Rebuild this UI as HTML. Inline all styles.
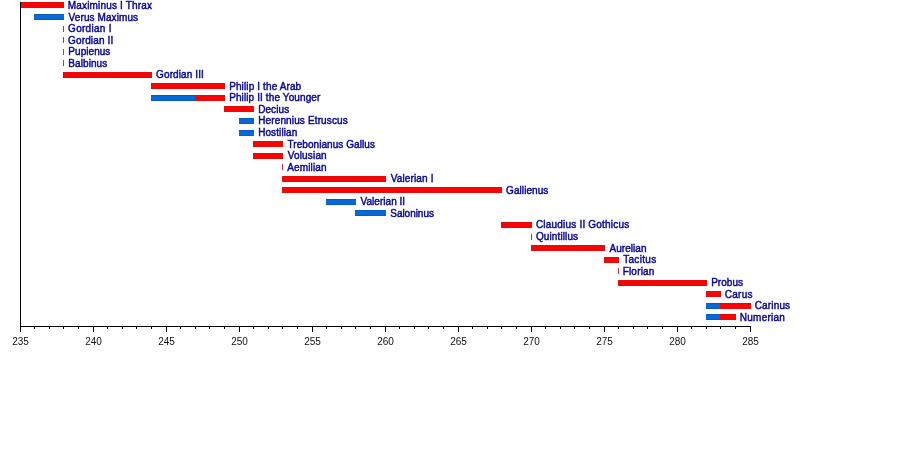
<!DOCTYPE html>
<html><head><meta charset="utf-8"><title>Timeline</title>
<style>
html,body{margin:0;padding:0;background:#fff;}
#c{position:relative;width:900px;height:475px;overflow:hidden;background:#fff;font-family:"Liberation Sans",Arial,sans-serif;font-size:10px;}
.r,.b,.k,.s,.p,.q{position:absolute;height:6px;}
.r{background:linear-gradient(#e40b0b 0,#e40b0b 1px,#fd0202 1px,#fd0202 5px,#e40b0b 5px,#e40b0b 6px);}
.b{background:linear-gradient(#075cc0 0,#075cc0 1px,#0768d8 1px,#0768d8 5px,#075cc0 5px,#075cc0 6px);}
.s{background:#d42a3a;width:1px;}
.p{background:#5a2a8c;width:1px;}
.q{background:#6a4088;width:1px;}
.k{background:#000;}
.t{position:absolute;color:#0a0898;white-space:nowrap;line-height:12px;height:12px;-webkit-text-stroke:0.45px #0a0898;}
.n{position:absolute;color:#111;white-space:nowrap;line-height:12px;height:12px;width:40px;text-align:center;}
</style></head><body><div id="c">

<div class="r" style="left:20px;top:2px;width:44px"></div>
<div class="t" id="t0" style="left:67.85px;top:0px;letter-spacing:0.162px">Maximinus I Thrax</div>
<div class="b" style="left:34px;top:14px;width:30px"></div>
<div class="t" id="t1" style="left:68.60px;top:12px;letter-spacing:0.096px">Verus Maximus</div>
<div class="s" style="left:63px;top:26px"></div>
<div class="t" id="t2" style="left:68.10px;top:23px;letter-spacing:0.281px">Gordian I</div>
<div class="s" style="left:63px;top:37px"></div>
<div class="t" id="t3" style="left:68.10px;top:35px;letter-spacing:0.128px">Gordian II</div>
<div class="s" style="left:63px;top:49px"></div>
<div class="t" id="t4" style="left:68.35px;top:46px;letter-spacing:0.043px">Pupienus</div>
<div class="s" style="left:63px;top:60px"></div>
<div class="t" id="t5" style="left:68.35px;top:58px;letter-spacing:0.079px">Balbinus</div>
<div class="r" style="left:63px;top:72px;width:89px"></div>
<div class="p" style="left:63px;top:72px"></div>
<div class="t" id="t6" style="left:156.10px;top:69px;letter-spacing:0.105px">Gordian III</div>
<div class="r" style="left:151px;top:83px;width:74px"></div>
<div class="t" id="t7" style="left:229.15px;top:81px;letter-spacing:0.125px">Philip I the Arab</div>
<div class="b" style="left:151px;top:95px;width:45px"></div>
<div class="r" style="left:195px;top:95px;width:30px"></div>
<div class="t" id="t8" style="left:229.15px;top:92px;letter-spacing:0.112px">Philip II the Younger</div>
<div class="r" style="left:224px;top:106px;width:30px"></div>
<div class="t" id="t9" style="left:258.15px;top:104px;letter-spacing:0.090px">Decius</div>
<div class="b" style="left:239px;top:118px;width:15px"></div>
<div class="q" style="left:253px;top:118px"></div>
<div class="t" id="t10" style="left:258.15px;top:115px;letter-spacing:0.141px">Herennius Etruscus</div>
<div class="b" style="left:239px;top:130px;width:15px"></div>
<div class="q" style="left:253px;top:130px"></div>
<div class="t" id="t11" style="left:258.15px;top:127px;letter-spacing:0.100px">Hostilian</div>
<div class="r" style="left:253px;top:141px;width:30px"></div>
<div class="t" id="t12" style="left:287.50px;top:139px;letter-spacing:0.062px">Trebonianus Gallus</div>
<div class="r" style="left:253px;top:153px;width:30px"></div>
<div class="t" id="t13" style="left:287.75px;top:150px;letter-spacing:0.157px">Volusian</div>
<div class="s" style="left:282px;top:164px"></div>
<div class="t" id="t14" style="left:287.25px;top:162px;letter-spacing:0.136px">Aemilian</div>
<div class="r" style="left:282px;top:176px;width:104px"></div>
<div class="t" id="t15" style="left:390.75px;top:173px;letter-spacing:0.128px">Valerian I</div>
<div class="r" style="left:282px;top:187px;width:220px"></div>
<div class="t" id="t16" style="left:506.10px;top:185px;letter-spacing:0.069px">Gallienus</div>
<div class="b" style="left:326px;top:199px;width:30px"></div>
<div class="t" id="t17" style="left:360.55px;top:196px;letter-spacing:0.030px">Valerian II</div>
<div class="b" style="left:355px;top:210px;width:31px"></div>
<div class="q" style="left:385px;top:210px"></div>
<div class="t" id="t18" style="left:390.25px;top:208px;letter-spacing:-0.031px">Saloninus</div>
<div class="r" style="left:501px;top:222px;width:31px"></div>
<div class="t" id="t19" style="left:535.95px;top:219px;letter-spacing:0.200px">Claudius II Gothicus</div>
<div class="s" style="left:531px;top:234px"></div>
<div class="t" id="t20" style="left:535.95px;top:231px;letter-spacing:0.117px">Quintillus</div>
<div class="r" style="left:531px;top:245px;width:74px"></div>
<div class="t" id="t21" style="left:609.55px;top:243px;letter-spacing:0.043px">Aurelian</div>
<div class="r" style="left:604px;top:257px;width:15px"></div>
<div class="t" id="t22" style="left:623.15px;top:254px;letter-spacing:0.325px">Tacitus</div>
<div class="s" style="left:618px;top:268px"></div>
<div class="t" id="t23" style="left:622.65px;top:266px;letter-spacing:0.200px">Florian</div>
<div class="r" style="left:618px;top:280px;width:89px"></div>
<div class="t" id="t24" style="left:711.15px;top:277px;letter-spacing:0.050px">Probus</div>
<div class="r" style="left:706px;top:291px;width:15px"></div>
<div class="t" id="t25" style="left:724.75px;top:289px;letter-spacing:0.263px">Carus</div>
<div class="b" style="left:706px;top:303px;width:15px"></div>
<div class="r" style="left:720px;top:303px;width:31px"></div>
<div class="t" id="t26" style="left:754.75px;top:300px;letter-spacing:0.150px">Carinus</div>
<div class="b" style="left:706px;top:314px;width:15px"></div>
<div class="r" style="left:720px;top:314px;width:16px"></div>
<div class="t" id="t27" style="left:739.85px;top:312px;letter-spacing:0.236px">Numerian</div>
<div class="k" style="left:20px;top:2px;width:1px;height:325px"></div>
<div class="k" style="left:20px;top:326px;width:731px;height:1px"></div>
<div class="k" style="left:20px;top:326px;width:1px;height:6px"></div>
<div class="n" style="left:0.5px;top:336px">235</div>
<div class="k" style="left:34px;top:326px;width:1px;height:3px"></div>
<div class="k" style="left:49px;top:326px;width:1px;height:3px"></div>
<div class="k" style="left:63px;top:326px;width:1px;height:3px"></div>
<div class="k" style="left:78px;top:326px;width:1px;height:3px"></div>
<div class="k" style="left:93px;top:326px;width:1px;height:6px"></div>
<div class="n" style="left:73.5px;top:336px">240</div>
<div class="k" style="left:107px;top:326px;width:1px;height:3px"></div>
<div class="k" style="left:122px;top:326px;width:1px;height:3px"></div>
<div class="k" style="left:136px;top:326px;width:1px;height:3px"></div>
<div class="k" style="left:151px;top:326px;width:1px;height:3px"></div>
<div class="k" style="left:166px;top:326px;width:1px;height:6px"></div>
<div class="n" style="left:146.5px;top:336px">245</div>
<div class="k" style="left:180px;top:326px;width:1px;height:3px"></div>
<div class="k" style="left:195px;top:326px;width:1px;height:3px"></div>
<div class="k" style="left:209px;top:326px;width:1px;height:3px"></div>
<div class="k" style="left:224px;top:326px;width:1px;height:3px"></div>
<div class="k" style="left:239px;top:326px;width:1px;height:6px"></div>
<div class="n" style="left:219.5px;top:336px">250</div>
<div class="k" style="left:253px;top:326px;width:1px;height:3px"></div>
<div class="k" style="left:268px;top:326px;width:1px;height:3px"></div>
<div class="k" style="left:282px;top:326px;width:1px;height:3px"></div>
<div class="k" style="left:297px;top:326px;width:1px;height:3px"></div>
<div class="k" style="left:312px;top:326px;width:1px;height:6px"></div>
<div class="n" style="left:292.5px;top:336px">255</div>
<div class="k" style="left:326px;top:326px;width:1px;height:3px"></div>
<div class="k" style="left:341px;top:326px;width:1px;height:3px"></div>
<div class="k" style="left:355px;top:326px;width:1px;height:3px"></div>
<div class="k" style="left:370px;top:326px;width:1px;height:3px"></div>
<div class="k" style="left:385px;top:326px;width:1px;height:6px"></div>
<div class="n" style="left:365.5px;top:336px">260</div>
<div class="k" style="left:399px;top:326px;width:1px;height:3px"></div>
<div class="k" style="left:414px;top:326px;width:1px;height:3px"></div>
<div class="k" style="left:428px;top:326px;width:1px;height:3px"></div>
<div class="k" style="left:443px;top:326px;width:1px;height:3px"></div>
<div class="k" style="left:458px;top:326px;width:1px;height:6px"></div>
<div class="n" style="left:438.5px;top:336px">265</div>
<div class="k" style="left:472px;top:326px;width:1px;height:3px"></div>
<div class="k" style="left:487px;top:326px;width:1px;height:3px"></div>
<div class="k" style="left:501px;top:326px;width:1px;height:3px"></div>
<div class="k" style="left:516px;top:326px;width:1px;height:3px"></div>
<div class="k" style="left:531px;top:326px;width:1px;height:6px"></div>
<div class="n" style="left:511.5px;top:336px">270</div>
<div class="k" style="left:545px;top:326px;width:1px;height:3px"></div>
<div class="k" style="left:560px;top:326px;width:1px;height:3px"></div>
<div class="k" style="left:574px;top:326px;width:1px;height:3px"></div>
<div class="k" style="left:589px;top:326px;width:1px;height:3px"></div>
<div class="k" style="left:604px;top:326px;width:1px;height:6px"></div>
<div class="n" style="left:584.5px;top:336px">275</div>
<div class="k" style="left:618px;top:326px;width:1px;height:3px"></div>
<div class="k" style="left:633px;top:326px;width:1px;height:3px"></div>
<div class="k" style="left:647px;top:326px;width:1px;height:3px"></div>
<div class="k" style="left:662px;top:326px;width:1px;height:3px"></div>
<div class="k" style="left:677px;top:326px;width:1px;height:6px"></div>
<div class="n" style="left:657.5px;top:336px">280</div>
<div class="k" style="left:691px;top:326px;width:1px;height:3px"></div>
<div class="k" style="left:706px;top:326px;width:1px;height:3px"></div>
<div class="k" style="left:720px;top:326px;width:1px;height:3px"></div>
<div class="k" style="left:735px;top:326px;width:1px;height:3px"></div>
<div class="k" style="left:750px;top:326px;width:1px;height:6px"></div>
<div class="n" style="left:730.5px;top:336px">285</div>
</div></body></html>
